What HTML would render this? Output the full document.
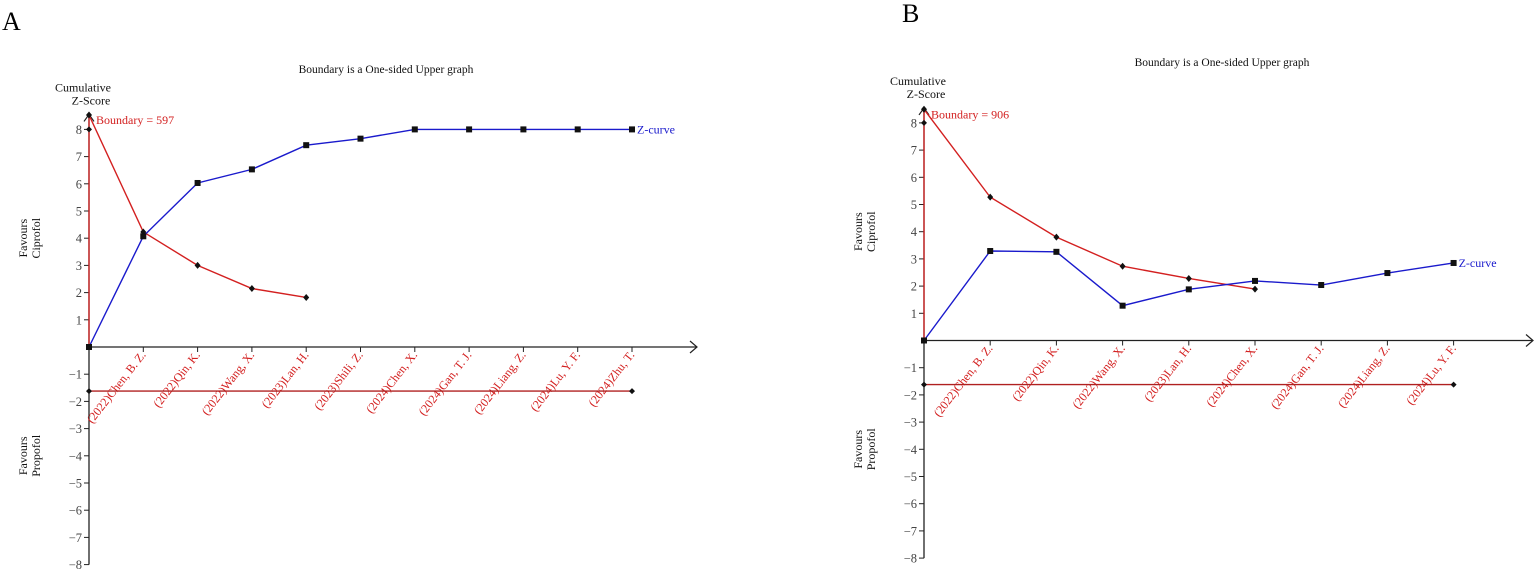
<!DOCTYPE html>
<html><head><meta charset="utf-8"><style>
html,body{margin:0;padding:0;background:#fff;}
svg{display:block;font-family:"Liberation Serif",serif;}
</style></head><body>
<svg id="chart" width="1535" height="571" viewBox="0 0 1535 571" xmlns="http://www.w3.org/2000/svg">
<text x="2" y="30" font-size="26">A</text>
<text x="902" y="22" font-size="26">B</text>
</svg>
<script>
const labelsA = ["(2022)Chen, B. Z.","(2022)Qin, K.","(2022)Wang, X.","(2023)Lan, H.","(2023)Shili, Z.","(2024)Chen, X.","(2024)Gan, T. J.","(2024)Liang, Z.","(2024)Lu, Y. F.","(2024)Zhu, T."];
const zA = [0,4.07,6.03,6.53,7.42,7.66,8.0,8.0,8.0,8.0,8.0];
const boundA = [8.53,4.23,3.0,2.15,1.82];
const boundTextA = "Boundary = 597";
const labelsB = ["(2022)Chen, B. Z.","(2022)Qin, K.","(2022)Wang, X.","(2023)Lan, H.","(2024)Chen, X.","(2024)Gan, T. J.","(2024)Liang, Z.","(2024)Lu, Y. F."];
const zB = [0,3.29,3.26,1.28,1.88,2.19,2.04,2.48,2.85];
const boundB = [8.5,5.27,3.8,2.73,2.28,1.89];
const boundTextB = "Boundary = 906";
const yTicks = [8,7,6,5,4,3,2,1,-1,-2,-3,-4,-5,-6,-7,-8];
const lowerLine = -1.62;

const svg = document.getElementById('chart');
const NS = "http://www.w3.org/2000/svg";
function mk(tag, attrs, parent){
  const e = document.createElementNS(NS, tag);
  for (const k in attrs) e.setAttribute(k, attrs[k]);
  (parent||svg).appendChild(e);
  return e;
}
function panel(p){
  const g = mk('g', {});
  
  
  const X = i => p.x0 + i*p.dx;
  const Y = v => p.y0 - v*27.2;
  const t = mk('text', {x:p.titleX, y:p.titleY, 'font-size':11.5, 'text-anchor':'middle', fill:'#111'}, g);
  t.textContent = "Boundary is a One-sided Upper graph";
  
  
  const yt1 = mk('text', {x:p.x0-6, y:Y(8)-38, 'font-size':12, 'text-anchor':'middle', fill:'#111'}, g);
  yt1.textContent = "Cumulative";
  
  
  const yt2 = mk('text', {x:p.x0+2, y:Y(8)-25, 'font-size':12, 'text-anchor':'middle', fill:'#111'}, g);
  yt2.textContent = "Z-Score";
  
  
  [["Favours","Ciprofol",Y(4),'favours-ciprofol-label'],["Favours","Propofol",Y(-4),'favours-propofol-label']].forEach(f=>{
    const tx = mk('text', {transform:`translate(${p.x0-62},${f[2]}) rotate(-90)`, 'font-size':12, 'text-anchor':'middle', fill:'#111'}, g);
    
    
    const a = mk('tspan', {x:0, y:0}, tx); a.textContent = f[0];
    const b = mk('tspan', {x:0, y:13}, tx); b.textContent = f[1];
  });
  const ya = mk('line', {x1:p.x0, y1:Y(8.55), x2:p.x0, y2:Y(-8), stroke:'#222', 'stroke-width':1.3}, g);
  
  
  mk('path', {d:`M${p.x0-5},${Y(8.55)+7} L${p.x0},${Y(8.55)} L${p.x0+5},${Y(8.55)+7}`, fill:'none', stroke:'#222','stroke-width':1.2}, g);
  const xa = mk('line', {x1:p.x0, y1:p.y0, x2:p.xEnd, y2:p.y0, stroke:'#222', 'stroke-width':1.3}, g);
  
  
  mk('path', {d:`M${p.xEnd-7},${p.y0-6} L${p.xEnd},${p.y0} L${p.xEnd-7},${p.y0+6}`, fill:'none', stroke:'#222','stroke-width':1.2}, g);
  yTicks.forEach(v=>{
    mk('line', {x1:p.x0-5, y1:Y(v), x2:p.x0, y2:Y(v), stroke:'#222','stroke-width':1}, g);
    const tl = mk('text', {x:p.x0-7, y:Y(v)+4.5, 'font-size':12.5, 'text-anchor':'end', fill:'#444'}, g);
    tl.textContent = v<0 ? '\u2212'+(-v) : String(v);
    
    
  });
  p.labels.forEach((l,i)=>{
    const x = X(i+1);
    mk('line', {x1:x, y1:p.y0, x2:x, y2:p.y0+5, stroke:'#222','stroke-width':1}, g);
    const tl = mk('text', {transform:`translate(${x+3},${p.y0+8}) rotate(-52)`, 'font-size':12, 'text-anchor':'end', fill:'#d32020'}, g);
    tl.textContent = l;
    
    
  });
  mk('line', {x1:p.x0, y1:Y(p.bound[0]), x2:p.x0, y2:p.y0, stroke:'#d32020','stroke-width':1.3}, g);
  const ll = mk('line', {x1:p.x0, y1:Y(lowerLine), x2:X(p.labels.length), y2:Y(lowerLine), stroke:'#b02020','stroke-width':1.4}, g);
  
  
  [[p.x0,Y(lowerLine)],[X(p.labels.length),Y(lowerLine)],[p.x0,Y(8)]].forEach(c=>{
    mk('path', {d:`M${c[0]-3},${c[1]} L${c[0]},${c[1]-3} L${c[0]+3},${c[1]} L${c[0]},${c[1]+3}Z`, fill:'#111'}, g);
  });
  const bp = mk('polyline', {points:p.bound.map((v,i)=>X(i)+','+Y(v)).join(' '), fill:'none', stroke:'#d32020','stroke-width':1.4}, g);
  
  
  p.bound.forEach((v,i)=>{
    const d = mk('path', {d:`M${X(i)-3},${Y(v)} L${X(i)},${Y(v)-3.5} L${X(i)+3},${Y(v)} L${X(i)},${Y(v)+3.5}Z`, fill:'#111'}, g);
    
    
  });
  const bt = mk('text', {x:p.x0+7, y:Y(p.bound[0])+9, 'font-size':12, fill:'#d32020'}, g);
  bt.textContent = p.boundText;
  
  
  const zp = mk('polyline', {points:p.z.map((v,i)=>X(i)+','+Y(v)).join(' '), fill:'none', stroke:'#1a1acc','stroke-width':1.4}, g);
  
  
  p.z.forEach((v,i)=>{
    const s = mk('rect', {x:X(i)-3, y:Y(v)-3, width:6, height:6, fill:'#111'}, g);
    
    
  });
  const zl = mk('text', {x:X(p.z.length-1)+5, y:Y(p.z[p.z.length-1])+4, 'font-size':12, fill:'#1a1acc'}, g);
  zl.textContent = "Z-curve";
  
  
}
panel({name:'panel-a', x0:89, y0:347, dx:54.3, xEnd:697, titleX:386, titleY:73, labels:labelsA, z:zA, bound:boundA, boundText:boundTextA});
panel({name:'panel-b', x0:924, y0:340.5, dx:66.2, xEnd:1533, titleX:1222, titleY:66, labels:labelsB, z:zB, bound:boundB, boundText:boundTextB});
</script>
</body></html>
